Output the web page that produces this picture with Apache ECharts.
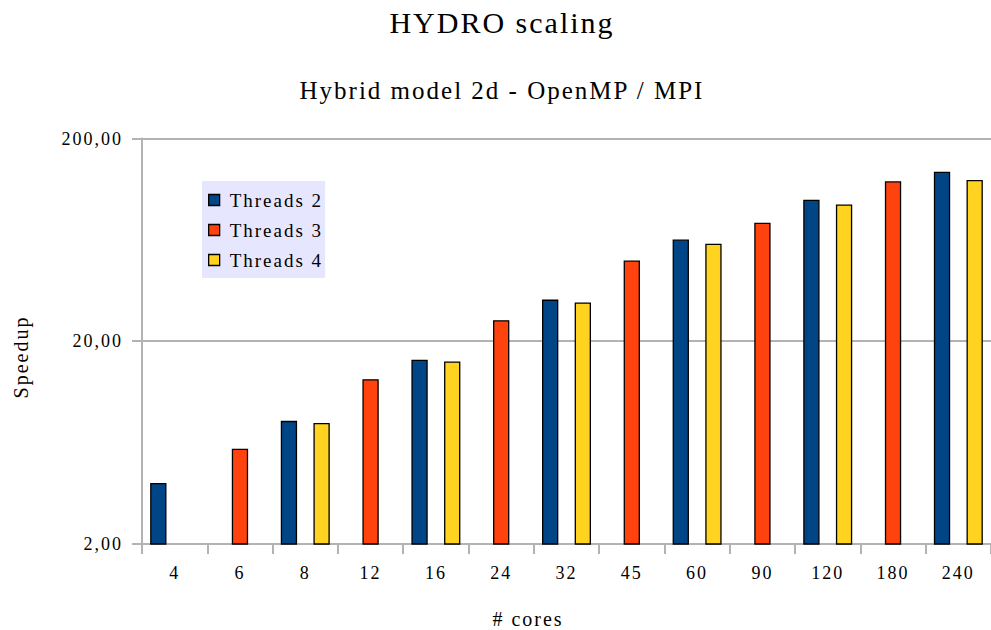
<!DOCTYPE html>
<html>
<head>
<meta charset="utf-8">
<script src="https://cdn.jsdelivr.net/npm/echarts@6/dist/echarts.min.js"></script>
<style>
html,body{margin:0;padding:0;background:#fff;}
#chart{width:991px;height:630px;}
#chart text{letter-spacing:2px;}
</style>
</head>
<body>
<div id="chart"></div>
<script>
const categories = ['4','6','8','12','16','24','32','45','60','90','120','180','240'];
const threads2 = [4.0, null, 8.1, null, 16.2, null, 32.1, null, 63.5, null, 99.7, null, 137];
const threads3 = [null, 5.9, null, 13.0, null, 25.4, null, 50.0, null, 76.8, null, 123, null];
const threads4 = [null, null, 7.9, null, 15.9, null, 31.1, null, 60.5, null, 94.5, null, 125];
const yTicks = [2, 20, 200];
const seriesNames = ['Threads 2', 'Threads 3', 'Threads 4'];
const colors = ['#004586', '#ff420e', '#ffd320'];

const FONT = 'Liberation Serif';
const chart = echarts.init(document.getElementById('chart'), null, {renderer: 'svg'});

function bar(name, data, color) {
  return {
    name: name,
    type: 'bar',
    data: data,
    barGap: '0%',
    barCategoryGap: '25%',
    itemStyle: {color: color, borderColor: '#000', borderWidth: 1.3},
    emphasis: {disabled: true}
  };
}

chart.setOption({
  animation: false,
  backgroundColor: '#fff',
  graphic: [
    {type: 'text', x: 502, y: 22, style: {text: 'HYDRO scaling', font: '30px "Liberation Serif"', fill: '#000', align: 'center', verticalAlign: 'middle'}},
    {type: 'text', x: 502, y: 90, style: {text: 'Hybrid model 2d - OpenMP / MPI', font: '25px "Liberation Serif"', fill: '#000', align: 'center', verticalAlign: 'middle'}},
    {type: 'text', x: 21, y: 357, rotation: Math.PI / 2, style: {text: 'Speedup', font: '20px "Liberation Serif"', fill: '#000', align: 'center', verticalAlign: 'middle'}},
    {type: 'text', x: 528, y: 619, style: {text: '# cores', font: '20px "Liberation Serif"', fill: '#000', align: 'center', verticalAlign: 'middle'}}
  ],
  legend: {
    orient: 'vertical',
    left: 202,
    top: 181,
    backgroundColor: '#e6e6ff',
    padding: [9, 20, 8, 6],
    itemGap: 10,
    itemWidth: 11,
    itemHeight: 11,
    icon: 'rect',
    itemStyle: {borderColor: '#000', borderWidth: 1.3},
    textStyle: {fontFamily: FONT, fontSize: 19, color: '#000', lineHeight: 20, padding: [0, 0, 0, 5]},
    data: seriesNames
  },
  grid: {left: 142, top: 138.5, width: 860.6, height: 405.5, containLabel: false},
  xAxis: {
    type: 'category',
    data: categories,
    boundaryGap: true,
    axisLine: {lineStyle: {color: '#b3b3b3', width: 2}},
    axisTick: {show: true, length: 10, lineStyle: {color: '#b3b3b3', width: 2}},
    axisLabel: {fontFamily: FONT, fontSize: 18, color: '#000', margin: 20, interval: 0}
  },
  yAxis: {
    type: 'log',
    logBase: 10,
    min: 2,
    max: 200,
    axisLine: {show: true, lineStyle: {color: '#b3b3b3', width: 2}},
    axisTick: {show: true, length: 10, customValues: yTicks, lineStyle: {color: '#b3b3b3', width: 2}},
    axisLabel: {
      fontFamily: FONT, fontSize: 18, color: '#000', margin: 19,
      customValues: yTicks,
      formatter: function (v) { return v.toFixed(2).replace('.', ','); }
    },
    splitLine: {show: true, lineStyle: {color: '#b3b3b3', width: 2}},
    minorSplitLine: {show: false}
  },
  series: [
    bar(seriesNames[0], threads2, colors[0]),
    bar(seriesNames[1], threads3, colors[1]),
    bar(seriesNames[2], threads4, colors[2])
  ]
});
</script>
</body>
</html>
